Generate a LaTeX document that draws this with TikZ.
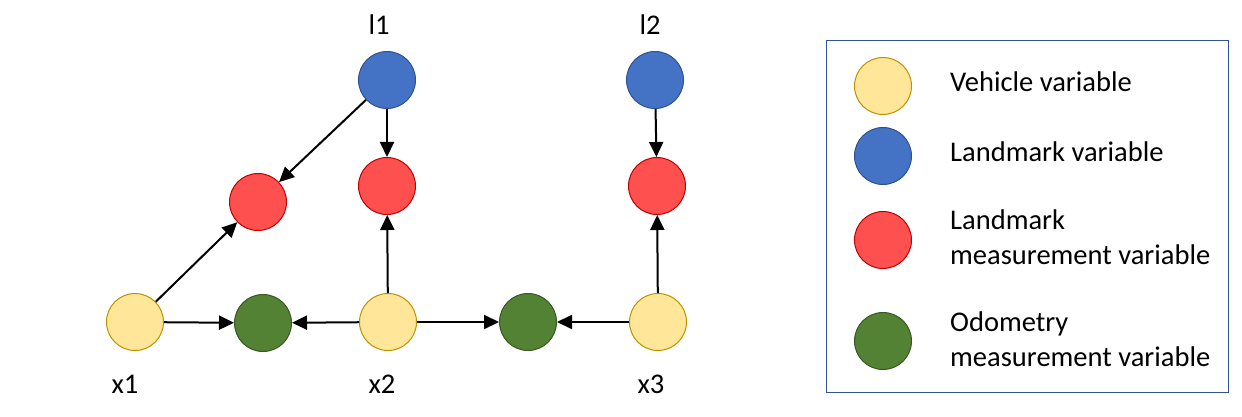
\documentclass[tikz,border=0pt]{standalone}
\usepackage{fontspec}
\setmainfont{Carlito}
\usetikzlibrary{arrows.meta}
\definecolor{yfill}{HTML}{FFE699}
\definecolor{ydraw}{HTML}{BF9000}
\definecolor{bfill}{HTML}{4472C4}
\definecolor{bdraw}{HTML}{2F528F}
\definecolor{rfill}{HTML}{FF5050}
\definecolor{rdraw}{HTML}{C00000}
\definecolor{gfill}{HTML}{548235}
\definecolor{gdraw}{HTML}{385723}
\definecolor{boxdraw}{HTML}{2F5597}
\tikzset{
  var/.style={circle, minimum size=57pt, inner sep=0pt, line width=1pt},
  veh/.style={var, fill=yfill, draw=ydraw},
  lmk/.style={var, fill=bfill, draw=bdraw},
  lmeas/.style={var, fill=rfill, draw=rdraw},
  omeas/.style={var, fill=gfill, draw=gdraw},
  conn/.style={line width=2pt, -{Triangle[length=15pt, width=14pt]}},
  lbl/.style={font=\fontsize{28.5}{34}\selectfont, inner sep=0pt},
  legtxt/.style={font=\fontsize{28.5}{35}\selectfont, inner sep=0pt, anchor=west, align=left},
}
\begin{document}
\begin{tikzpicture}[x=1pt, y=-1pt]
\useasboundingbox (0,0) rectangle (1242,417);
% nodes
\node[lmk] (l1) at (387,80) {};
\node[lmk] (l2) at (655,80) {};
\node[lmeas] (m1) at (258,202) {};
\node[lmeas] (m2) at (387,186) {};
\node[lmeas] (m3) at (657,186) {};
\node[veh] (x1) at (135,322) {};
\node[veh] (x2) at (388,322) {};
\node[veh] (x3) at (658,322) {};
\node[omeas] (o1) at (263,323) {};
\node[omeas] (o2) at (528,322) {};
% labels
\node[lbl] (tl1) at (379,25) {l1};
\node[lbl] (tl2) at (650,25) {l2};
\node[lbl] (tx1) at (125,384) {x1};
\node[lbl] (tx2) at (382,384) {x2};
\node[lbl] (tx3) at (651,384) {x3};
% connectors
\draw[conn] (l1) -- (m1);
\draw[conn] (l1) -- (m2);
\draw[conn] (x1) -- (m1);
\draw[conn] (x1) -- (o1);
\draw[conn] (x2) -- (o1);
\draw[conn] (x2) -- (m2);
\draw[conn] (x2) -- (o2);
\draw[conn] (x3) -- (o2);
\draw[conn] (x3) -- (m3);
\draw[conn] (l2) -- (m3);
% legend
\node[draw=boxdraw, line width=1pt, minimum width=402pt, minimum height=351pt, inner sep=0pt] (legend) at (1027,216.5) {};
\node[veh] (ly) at (883,86) {};
\node[lmk] (lb) at (883,156) {};
\node[lmeas] (lr) at (883,240) {};
\node[omeas] (lg) at (883,341) {};
\node[legtxt] (ty) at (950,82) {Vehicle variable};
\node[legtxt] (tb) at (950,152) {Landmark variable};
\node[legtxt] (tr) at (950,237) {Landmark\\measurement variable};
\node[legtxt] (tg) at (950,339) {Odometry\\measurement variable};
\end{tikzpicture}
\end{document}
